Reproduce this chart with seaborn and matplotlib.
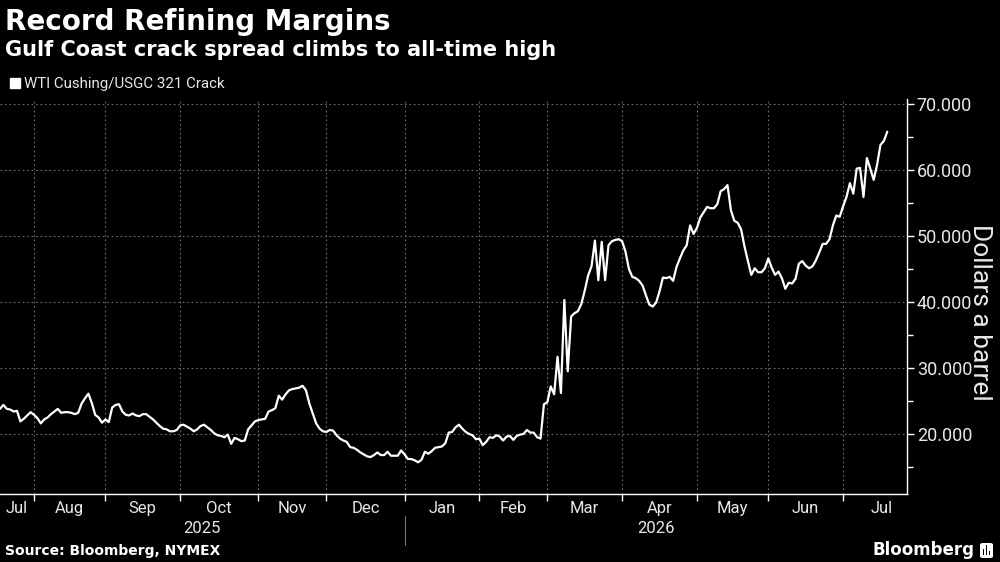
import numpy as np
import pandas as pd
import matplotlib
matplotlib.use('Agg')
import matplotlib.pyplot as plt
import matplotlib.transforms as mtransforms
from matplotlib.patches import Patch, FancyBboxPatch, Rectangle
import seaborn as sns

# WTI Cushing/USGC 321 crack, $/bbl, one value per weekday, split by month
jul_2025 = [23.8, 24.4, 23.8, 23.7, 23.4, 23.5, 21.9, 22.3, 22.8, 23.3]
aug_2025 = [22.9, 22.4, 21.6, 22.2, 22.5, 23.0, 23.4, 23.8, 23.2, 23.3, 23.3,
            23.2, 23.0, 23.2, 24.6, 25.4, 26.1, 24.7, 22.9, 22.5, 21.7]
sep_2025 = [22.2, 21.8, 24.0, 24.4, 24.5, 23.4, 22.9, 22.8, 23.1, 22.8, 22.7,
            23.0, 23.0, 22.6, 22.2, 21.7, 21.2, 20.8, 20.7, 20.4, 20.4, 20.6]
oct_2025 = [21.3, 21.4, 21.1, 20.8, 20.4, 20.7, 21.2, 21.4, 21.0, 20.6, 20.1,
            19.8, 19.7, 19.5, 19.9, 18.5, 19.4, 19.2, 18.9, 19.0, 20.7, 21.3, 21.9]
nov_2025 = [22.1, 22.2, 22.3, 23.4, 23.6, 23.9, 25.8, 25.2, 26.0, 26.6, 26.8,
            26.9, 27.0, 27.3, 26.6, 24.6, 23.1, 21.6, 20.8, 20.4]
dec_2025 = [20.3, 20.6, 20.5, 19.8, 19.3, 19.0, 18.8, 18.0, 17.9, 17.6, 17.2,
            16.9, 16.6, 16.5, 16.8, 17.2, 16.8, 16.8, 17.3, 16.7, 16.7, 16.7, 17.5]
jan_2026 = [16.9, 16.2, 16.2, 16.0, 15.7, 16.1, 17.3, 17.0, 17.4, 17.9, 18.0,
            18.1, 18.6, 20.2, 20.3, 21.0, 21.4, 20.8, 20.3, 20.0, 19.8, 19.2]
feb_2026 = [19.3, 18.3, 18.8, 19.5, 19.4, 19.8, 19.6, 19.0, 19.6, 19.7, 19.1,
            19.7, 19.9, 20.0, 20.6, 20.2, 20.2, 19.5, 19.3, 24.5]
mar_2026 = [24.8, 27.2, 26.0, 31.7, 26.2, 40.3, 29.5, 37.8, 38.3, 38.6, 39.7,
            41.7, 44.0, 45.4, 49.3, 43.3, 49.1, 43.3, 48.6, 49.2, 49.4, 49.5]
apr_2026 = [49.2, 47.6, 45.0, 43.8, 43.6, 43.2, 42.5, 41.0, 39.6, 39.3, 39.9,
            41.6, 43.7, 43.6, 43.8, 43.2, 45.3, 46.6, 47.8, 48.6, 51.6, 50.3]
may_2026 = [51.2, 52.8, 53.6, 54.4, 54.2, 54.2, 54.8, 56.8, 57.1, 57.7, 53.9,
            52.3, 52.0, 51.0, 48.4, 46.2, 44.1, 45.1, 44.5, 44.5, 45.1]
jun_2026 = [46.6, 45.2, 44.1, 44.6, 43.6, 42.0, 42.9, 42.8, 43.5, 45.8, 46.2,
            45.5, 45.1, 45.4, 46.3, 47.5, 48.8, 48.8, 49.5, 51.6, 53.1, 52.9]
jul_2026 = [54.5, 55.9, 58.0, 56.4, 60.2, 60.3, 55.9, 61.8, 60.2, 58.5, 60.8,
            63.8, 64.4, 65.8]

month_labels = ['Jul', 'Aug', 'Sep', 'Oct', 'Nov', 'Dec', 'Jan', 'Feb', 'Mar',
                'Apr', 'May', 'Jun', 'Jul']
year_labels = ['2025', '2026']
y_ticks = [20, 30, 40, 50, 60, 70]

values = (jul_2025 + aug_2025 + sep_2025 + oct_2025 + nov_2025 + dec_2025 +
          jan_2026 + feb_2026 + mar_2026 + apr_2026 + may_2026 + jun_2026 + jul_2026)
dates = pd.bdate_range('2025-07-18', '2026-07-20')
df = pd.DataFrame({'date': dates, 'pos': np.arange(len(dates)), 'crack': values})

# month spans in weekday-position space (full months, shifted to data start)
all_days = pd.bdate_range('2025-07-01', '2026-07-31')
offset = int(np.where(all_days == dates[0])[0][0])
periods = all_days.to_period('M')
month_start, month_end = [], []
for p in periods.unique():
    idx = np.where(periods == p)[0]
    month_start.append(idx[0] - offset)
    month_end.append(idx[-1] + 1 - offset)

x_max = 266.8
label_pos = [(max(s, 0) + e) / 2 for s, e in zip(month_start, month_end)]

sns.set_style('dark', {'axes.facecolor': 'black', 'figure.facecolor': 'black'})
plt.rcParams['font.family'] = ['Roboto', 'DejaVu Sans']
txt = '#e8e8e8'
bold_font = ['DejaVu Sans']

fig = plt.figure(figsize=(10, 5.62), dpi=100, facecolor='black')
ax = fig.add_axes([0.0, 1 - 494 / 562, 0.907, 395 / 562])
ax.set_facecolor('black')

sns.lineplot(data=df, x='pos', y='crack', ax=ax, color='white', linewidth=1.6)

ax.set_xlim(0, x_max)
ax.set_ylim(10.9, 70.75)

# y axis on the right
ax.yaxis.tick_right()
ax.yaxis.set_label_position('right')
ax.set_yticks(y_ticks)
ax.set_yticklabels([f'{v:.3f}' for v in y_ticks])
ax.set_yticks([15, 25, 35, 45, 55, 65], minor=True)
ax.tick_params(axis='y', which='major', direction='out', length=5, width=1,
               color='white', labelcolor=txt, labelsize=13, pad=2,
               left=False, right=True)
ax.tick_params(axis='y', which='minor', direction='out', length=4, width=1,
               color='white', left=False, right=True)
ax.set_ylabel('Dollars a barrel', rotation=270, color=txt, fontsize=19,
              labelpad=14)
ax.yaxis.label.set_y(0.46)

# x axis: month boundaries as ticks, month names centred in each month
ax.set_xticks(month_start[1:])
ax.set_xticklabels([])
ax.set_xticks(label_pos, minor=True)
ax.set_xticklabels(month_labels, minor=True)
ax.tick_params(axis='x', which='major', direction='out', length=5, width=1,
               color='white', bottom=True)
ax.tick_params(axis='x', which='minor', length=0, labelcolor=txt,
               labelsize=12, pad=5)
ax.set_xlabel('')

ax.grid(True, which='major', color='#6e6e6e', linestyle=(0, (1.5, 2.5)),
        linewidth=0.8)
ax.grid(False, which='minor')

for side in ['top', 'left']:
    ax.spines[side].set_visible(False)
for side in ['right', 'bottom']:
    ax.spines[side].set_visible(True)
    ax.spines[side].set_color('white')
    ax.spines[side].set_linewidth(1.0)

# year labels and divider
jan_pos = month_start[6]
trans = mtransforms.blended_transform_factory(ax.transData, ax.transAxes)
ax.text((0 + jan_pos) / 2, -0.088, year_labels[0], transform=trans,
        ha='center', va='center', color=txt, fontsize=12)
ax.text((jan_pos + x_max) / 2, -0.088, year_labels[1], transform=trans,
        ha='center', va='center', color=txt, fontsize=12)
ax.plot([jan_pos, jan_pos], [-0.055, -0.13], transform=trans, color='#777777',
        linewidth=0.8, clip_on=False)

# legend
ax.legend(handles=[Patch(facecolor='white', edgecolor='white')],
          labels=['WTI Cushing/USGC 321 Crack'], loc='lower left',
          bbox_to_anchor=(0.004, 1.005), frameon=False, handlelength=0.7,
          handleheight=0.7, handletextpad=0.25, borderaxespad=0,
          labelcolor=txt, fontsize=10.8)

# titles and footer
fig.text(0.005, 1 - 30 / 562, 'Record Refining Margins', color='white',
         fontsize=20, fontweight='bold', family=bold_font, va='baseline',
         ha='left')
fig.text(0.005, 1 - 56 / 562, 'Gulf Coast crack spread climbs to all-time high',
         color='white', fontsize=15, fontweight='bold', family=bold_font,
         va='baseline', ha='left')
fig.text(0.005, 1 - 551 / 562, 'Source: Bloomberg, NYMEX', color='white',
         fontsize=10, fontweight='bold', family=bold_font, va='center',
         ha='left')
fig.text(0.975, 1 - 550 / 562, 'Bloomberg', color='white', fontsize=12,
         fontweight='bold', family=bold_font, va='center', ha='right')
fig.patches.append(FancyBboxPatch((0.980, 1 - 558 / 562), 0.013, 15 / 562,
                                  boxstyle='round,pad=0,rounding_size=0.003',
                                  transform=fig.transFigure, facecolor='white',
                                  edgecolor='none'))
for bx, bh in [(0.9825, 6), (0.9855, 10), (0.9885, 4)]:
    fig.patches.append(Rectangle((bx, 1 - 555 / 562), 0.0018, bh / 562,
                                 transform=fig.transFigure, facecolor='black',
                                 edgecolor='none'))

fig.savefig('out.png', dpi=100, facecolor='black')
